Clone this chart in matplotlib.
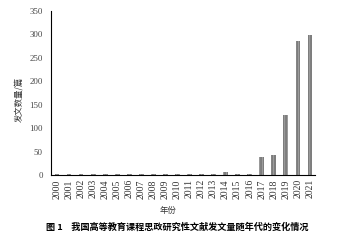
import numpy as np
import matplotlib
matplotlib.use("Agg")
import matplotlib.pyplot as plt

plt.rcParams['font.family'] = ['Liberation Serif', 'Noto Sans CJK SC']
plt.rcParams['hatch.linewidth'] = 0.5

years = [str(y) for y in range(2000, 2022)]
counts = [1, 1, 1, 1, 1, 1, 1, 3, 2, 1, 2, 3, 3, 2, 6, 2, 2,
          39, 42, 129, 286, 298]

fig = plt.figure(figsize=(3.43, 2.4), dpi=100)
ax = fig.add_axes([0.149, 0.271, 0.769, 0.683])

x = np.arange(len(years))
ax.bar(x, counts, width=0.38, color='#7d7d7d', edgecolor='#aaaaaa',
       hatch='||||||', linewidth=0)

ax.set_xlim(-0.5, len(years) - 0.58)
ax.set_ylim(0, 350)
ax.set_yticks(range(0, 351, 50))
ax.set_xticks(x)
ax.set_xticklabels(years, rotation=90, fontsize=7, color='#333333')
ax.tick_params(axis='y', labelsize=6.3, labelcolor='#444444', length=0, pad=6)
ax.tick_params(axis='x', length=0, pad=3)
for s in ['top', 'right']:
    ax.spines[s].set_visible(False)
ax.spines['left'].set_linewidth(0.8)
ax.spines['bottom'].set_linewidth(0.8)

ax.set_ylabel('发文数量/篇', fontsize=6, family=['Noto Sans CJK SC'],
              color='#333333')
ax.yaxis.set_label_coords(-0.106, 0.46)
fig.text(0.49, 0.125, '年份', ha='center', va='center', fontsize=6,
         family=['Noto Sans CJK SC'], color='#333333')
fig.text(0.517, 0.054, '图 1    我国高等教育课程思政研究性文献发文量随年代的变化情况',
         ha='center', va='center', fontsize=6.6, fontweight='bold',
         family=['Noto Sans CJK SC'])

fig.savefig('out.png', dpi=100)
